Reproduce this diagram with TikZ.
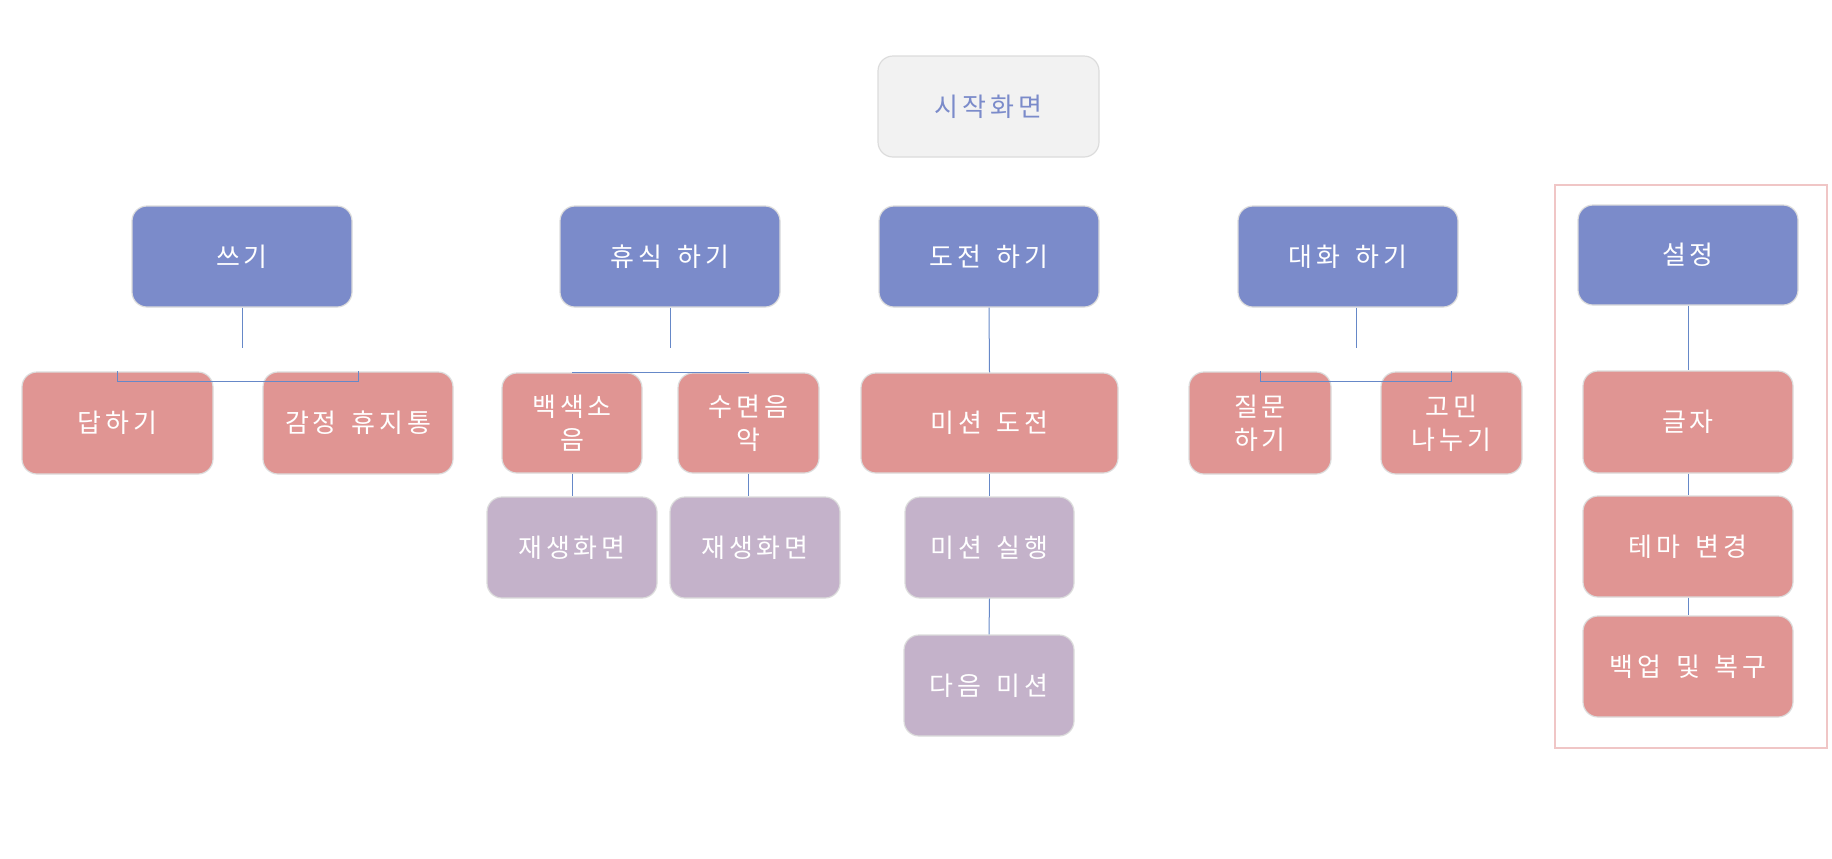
\documentclass[tikz,border=0pt]{standalone}
\usepackage{fontspec}
\newfontfamily\krfont[LetterSpace=15,WordSpace=1.5]{Noto Sans CJK KR}
\usetikzlibrary{positioning}
\definecolor{topFill}{HTML}{7B8BCA}
\definecolor{subFill}{HTML}{E09593}
\definecolor{leafFill}{HTML}{C4B2CA}
\definecolor{startFill}{HTML}{F2F2F2}
\definecolor{boxBorder}{HTML}{DCDCDC}
\definecolor{linkColor}{HTML}{6688C8}
\definecolor{frameBorder}{HTML}{F0C6C6}

\begin{document}
\begin{tikzpicture}[
    x=0.5pt, y=-0.5pt,
    block/.style={
        rectangle, draw=boxBorder,
        minimum height=50.5pt, inner sep=2pt,
        align=center,
        text centered, rounded corners=7.5pt,
        line width=0.6pt, text=white,
        font=\krfont\fontsize{13}{16.5}\selectfont
    },
    startbox/.style={block, fill=startFill, text=topFill, minimum width=110.5pt},
    topbox/.style={block, fill=topFill, minimum width=110pt},
    subbox/.style={block, fill=subFill, minimum height=51pt},
    leafbox/.style={block, fill=leafFill, minimum width=85pt},
    link/.style={draw=linkColor, line width=0.5pt},
    frame/.style={draw=frameBorder, line width=1.2pt}
]
  \useasboundingbox (0,0) rectangle (1832,858);

  % Nodes
  \node[startbox] (start) at (988.5,106.5) {시작화면};

  \node[topbox] (write) at (242,256.5) {쓰기};
  \node[topbox] (rest) at (670,256.5) {휴식 하기};
  \node[topbox] (challenge) at (989,256.5) {도전 하기};
  \node[topbox] (talk) at (1348,256.5) {대화 하기};
  \node[topbox, minimum height=50pt] (setting) at (1688,255) {설정};

  \node[subbox, minimum width=95.5pt] (reply) at (117.5,423) {답하기};
  \node[subbox, minimum width=95pt] (trash) at (358,423) {감정 휴지통};
  \node[subbox, minimum width=70pt, minimum height=50pt] (noise) at (572,423) {백색소\\음};
  \node[subbox, minimum width=70.5pt, minimum height=50pt] (music) at (748.5,423) {수면음\\악};
  \node[subbox, minimum width=128.5pt, minimum height=50pt] (mission) at (989.5,423) {미션 도전};
  \node[subbox, minimum width=71pt] (ask) at (1260,423) {질문\\하기};
  \node[subbox, minimum width=70.5pt] (share) at (1451.5,423) {고민\\나누기};
  \node[subbox, minimum width=105pt] (font) at (1688,422) {글자};

  \node[leafbox] (play1) at (572,547.5) {재생화면};
  \node[leafbox] (play2) at (755,547.5) {재생화면};
  \node[leafbox, minimum width=84.5pt] (run) at (989.5,547.5) {미션 실행};
  \node[leafbox] (next) at (989,685.5) {다음 미션};
  \node[subbox, minimum width=105pt, minimum height=50.5pt] (theme) at (1688,546.5) {테마 변경};
  \node[subbox, minimum width=105pt, minimum height=50.5pt] (backup) at (1688,666.5) {백업 및 복구};

  % Settings frame
  \draw[frame] (1555,185) rectangle (1827,748);

  % Write branch
  \draw[link] (write.south) -- ++(0,40);
  \draw[link] (reply.north) -- ++(0,10) -| (trash.north);

  % Rest branch
  \draw[link] (rest.south) -- ++(0,40);
  \draw[link] (noise.north) -- (music.north);
  \draw[link] (noise.south) -- (play1.north);
  \draw[link] (music.south) -- (music.south |- play2.north);

  % Challenge branch
  \draw[link] (challenge.south) -- (mission.north);
  \draw[link] (mission.south) -- (run.north);
  \draw[link] (run.south) -- (next.north);

  % Talk branch
  \draw[link] ([xshift=4pt]talk.south) -- ++(0,40);
  \draw[link] (ask.north) -- ++(0,10) -| (share.north);

  % Settings branch
  \draw[link] (setting.south) -- (font.north);
  \draw[link] (font.south) -- (theme.north);
  \draw[link] (theme.south) -- (backup.north);

\end{tikzpicture}
\end{document}
